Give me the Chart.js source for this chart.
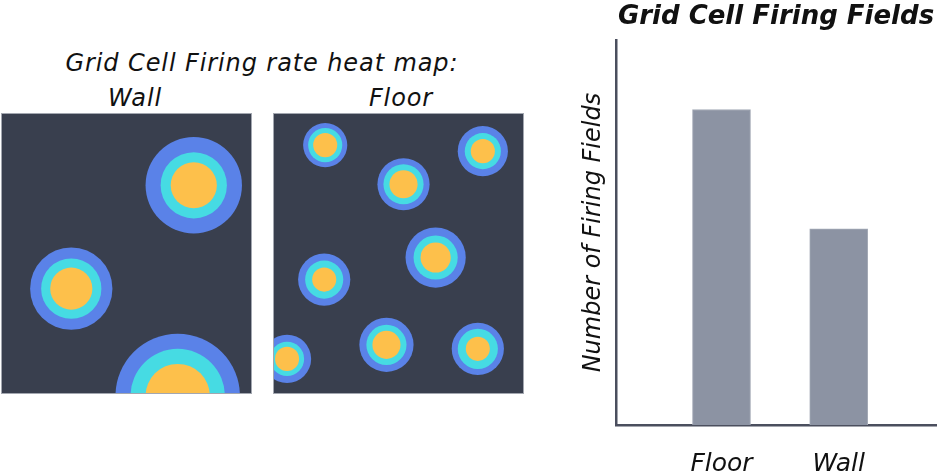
<!DOCTYPE html>
<html>
<head>
<meta charset="utf-8">
<script src="https://cdn.jsdelivr.net/npm/chart.js@4.4.0/dist/chart.umd.min.js"></script>
<style>
  body { margin: 0; background: #fff; width: 937px; height: 472px; overflow: hidden; position: relative; font-family: "DejaVu Sans", sans-serif; }
  .lbl { position: absolute; font-style: italic; font-size: 24px; color: #111; white-space: nowrap; transform: translateX(-50%); line-height: 1; letter-spacing: 0.9px; }
  canvas { position: absolute; }
</style>
</head>
<body>
<div class="lbl" style="left:262px; top:51px;">Grid Cell Firing rate heat map:</div>
<div class="lbl" style="left:135px; top:86px;">Wall</div>
<div class="lbl" style="left:401px; top:86px;">Floor</div>

<canvas id="wallMap" width="251" height="281" style="left:1px; top:113px;"></canvas>
<canvas id="floorMap" width="251" height="281" style="left:273px; top:113px;"></canvas>
<canvas id="fieldBars" width="397" height="472" style="left:540px; top:0px;"></canvas>

<script>
// firing field centres (arena units, origin top-left) and radii of the three rate bands
const wallX = [192, 70, 176];
const wallY = [72, 175, 282];
const wallOuter = [48, 41, 62];
const wallMid = [33, 30, 47];
const wallCore = [23, 21, 32];

const floorX = [52, 209, 130, 162, 51, 14, 113, 204];
const floorY = [32, 38, 71, 144, 166, 245, 231, 235];
const floorOuter = [22, 25, 26, 30, 26, 24, 27, 26];
const floorMid = [17, 18, 20, 22, 19, 17, 20, 20];
const floorCore = [12, 12, 14, 15, 12, 12, 14, 12];

// bar chart
const barLabels = ['Floor', 'Wall'];
const barValues = [8.2, 5.1];

const bandColors = { core: '#fdc04b', mid: '#46dbe3', outer: '#5a82e8' };

const arenaBg = {
  id: 'arenaBg',
  beforeDatasetsDraw(chart) {
    const { ctx, chartArea: a } = chart;
    ctx.save();
    ctx.fillStyle = '#393f4e';
    ctx.fillRect(a.left, a.top, a.width, a.height);
    ctx.restore();
  },
  afterDraw(chart) {
    const { ctx, chartArea: a } = chart;
    ctx.save();
    ctx.strokeStyle = '#a3a7b0';
    ctx.lineWidth = 1;
    ctx.strokeRect(a.left + 0.5, a.top + 0.5, a.width - 1, a.height - 1);
    ctx.restore();
  }
};

function pxRadius(radii) {
  return (ctx) => {
    const s = ctx.chart.scales.x;
    return s.getPixelForValue(radii[ctx.dataIndex]) - s.getPixelForValue(0);
  };
}

function band(xs, ys, radii, color) {
  return {
    data: xs.map((x, i) => ({ x: x, y: ys[i] })),
    backgroundColor: color,
    borderWidth: 0,
    pointRadius: pxRadius(radii),
    pointHoverRadius: pxRadius(radii),
    clip: 0
  };
}

function heatMap(id, xs, ys, outer, mid, core) {
  new Chart(document.getElementById(id), {
    type: 'scatter',
    data: {
      datasets: [
        band(xs, ys, core, bandColors.core),
        band(xs, ys, mid, bandColors.mid),
        band(xs, ys, outer, bandColors.outer)
      ]
    },
    options: {
      responsive: false,
      animation: false,
      events: [],
      layout: { padding: 0 },
      plugins: { legend: { display: false }, tooltip: { enabled: false } },
      scales: {
        x: { display: false, min: 0, max: 250 },
        y: { display: false, min: 0, max: 280, reverse: true }
      }
    },
    plugins: [arenaBg]
  });
}

heatMap('wallMap', wallX, wallY, wallOuter, wallMid, wallCore);
heatMap('floorMap', floorX, floorY, floorOuter, floorMid, floorCore);

const axisColor = '#4b4f5e';

new Chart(document.getElementById('fieldBars'), {
  type: 'bar',
  data: {
    datasets: [{
      data: barValues.map((v, i) => ({ x: i + 1, y: v })),
      backgroundColor: '#8c93a3',
      borderColor: '#a4aab6',
      borderWidth: 1,
      barThickness: 58
    }]
  },
  options: {
    responsive: false,
    animation: false,
    events: [],
    layout: { padding: { right: 1 } },
    plugins: {
      legend: { display: false },
      tooltip: { enabled: false },
      title: {
        display: true,
        fullSize: false,
        text: 'Grid Cell Firing Fields',
        color: '#111',
        font: { family: 'DejaVu Sans', size: 26, style: 'italic', weight: 'bold' },
        padding: { top: 2, bottom: 7 }
      }
    },
    scales: {
      x: {
        type: 'linear',
        min: 0.1,
        max: 2.83,
        offset: false,
        grid: { display: false, drawTicks: false, offset: false },
        border: { display: true, color: axisColor, width: 2.5 },
        afterBuildTicks: (scale) => { scale.ticks = barLabels.map((l, i) => ({ value: i + 1 })); },
        afterFit: (scale) => { scale.height = 47; },
        ticks: {
          padding: 24,
          color: '#111',
          font: { family: 'DejaVu Sans', size: 25, style: 'italic' },
          callback: (v) => barLabels[v - 1]
        }
      },
      y: {
        min: 0,
        max: 10,
        grid: { display: false, drawTicks: false },
        border: { display: true, color: axisColor, width: 2.5 },
        ticks: { display: false },
        afterFit: (scale) => { scale.width = 76; },
        title: {
          display: true,
          text: 'Number of Firing Fields',
          color: '#111',
          font: { family: 'DejaVu Sans', size: 24, style: 'italic' },
          padding: { top: 39 }
        }
      }
    }
  }
});
</script>
</body>
</html>
